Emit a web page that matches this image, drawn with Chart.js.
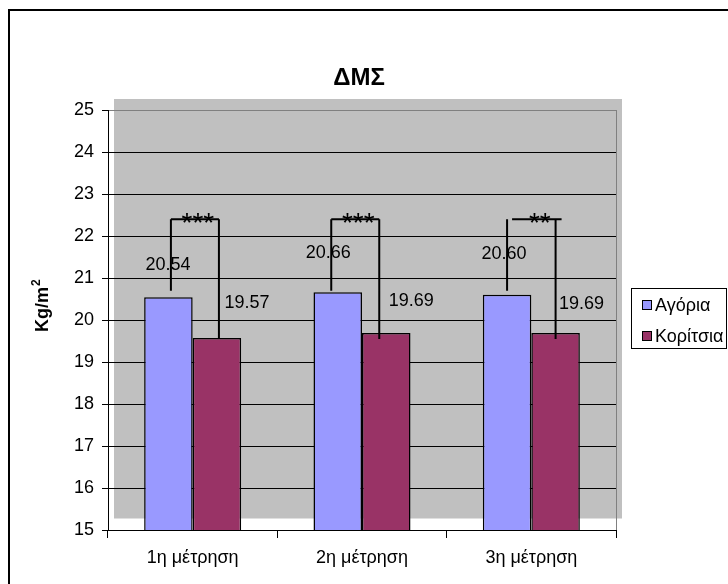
<!DOCTYPE html>
<html>
<head>
<meta charset="utf-8">
<script src="https://cdn.jsdelivr.net/npm/chart.js@4"></script>
<style>
html,body{margin:0;padding:0;background:#fff;}
#wrap{width:728px;height:584px;position:relative;}
</style>
</head>
<body>
<div id="wrap"><canvas id="c" width="728" height="584"></canvas></div>
<script>
// ---- data ----
const categories = ['1η μέτρηση', '2η μέτρηση', '3η μέτρηση'];
const seriesNames = ['Αγόρια', 'Κορίτσια'];
const boys = [20.54, 20.66, 20.60];
const girls = [19.57, 19.69, 19.69];
const sigLabels = ['***', '***', '**'];
const sigLevel = 22.4;
const yMin = 15, yMax = 25, yStep = 1;
const chartTitle = 'ΔΜΣ';
const yTitle = 'Kg/m';
const yTitleSup = '2';

const FONT = '"Liberation Sans", Arial, sans-serif';

// style-only offsets (pixels) for manually placed labels / brackets
const labelStyle = {
  dx: [[-0.5, -9.5, -3], [30, 25, 26]],
  dy: [[-32, -39, -41], [-35, -32, -29]]
};
const bracketStyle = {
  leftDx: [2.5, -6.5, 0],
  rightDx: [2, -7, 0],
  hStartDx: [0, 0, 5],
  hEndDx: [0, 0, 6],
  leftBottomY: 290.7,
  rightBottomY: 339
};

const deco = {
  id: 'deco',
  beforeDraw(chart) {
    const ctx = chart.ctx, a = chart.chartArea;
    ctx.save();
    ctx.fillStyle = '#fff';
    ctx.fillRect(0, 0, chart.width, chart.height);
    // outer border
    ctx.fillStyle = '#000';
    ctx.fillRect(8, 9, 2, chart.height);
    ctx.fillRect(8, 9, chart.width, 2);
    // offset gray plot background
    ctx.fillStyle = '#C0C0C0';
    ctx.fillRect(a.left + 6, a.top - 11, a.right - a.left, a.bottom - a.top - 0.5);
    ctx.restore();
  },
  beforeDatasetsDraw(chart) {
    const ctx = chart.ctx, a = chart.chartArea;
    ctx.save();
    ctx.strokeStyle = '#808080';
    ctx.lineWidth = 1;
    ctx.beginPath();
    ctx.moveTo(Math.round(a.right) + 0.5, a.top);
    ctx.lineTo(Math.round(a.right) + 0.5, a.bottom);
    ctx.stroke();
    ctx.restore();
  },
  afterDatasetsDraw(chart) {
    const ctx = chart.ctx, a = chart.chartArea;
    const ys = chart.scales.y;
    ctx.save();
    // data labels
    ctx.fillStyle = '#000';
    ctx.font = '18px ' + FONT;
    ctx.textAlign = 'center';
    ctx.textBaseline = 'middle';
    [0, 1].forEach(di => {
      const meta = chart.getDatasetMeta(di);
      meta.data.forEach((bar, i) => {
        const v = chart.data.datasets[di].data[i];
        ctx.fillText(v.toFixed(2), bar.x + labelStyle.dx[di][i], bar.y + labelStyle.dy[di][i]);
      });
    });
    // significance brackets
    const m0 = chart.getDatasetMeta(0), m1 = chart.getDatasetMeta(1);
    const topY = ys.getPixelForValue(sigLevel);
    ctx.strokeStyle = '#000';
    ctx.lineWidth = 2;
    sigLabels.forEach((s, i) => {
      const xl = m0.data[i].x + bracketStyle.leftDx[i];
      const xr = m1.data[i].x + bracketStyle.rightDx[i];
      ctx.beginPath();
      ctx.moveTo(xl, bracketStyle.leftBottomY);
      ctx.lineTo(xl, topY);
      ctx.moveTo(xl + bracketStyle.hStartDx[i], topY);
      ctx.lineTo(xr + bracketStyle.hEndDx[i], topY);
      ctx.moveTo(xr, topY);
      ctx.lineTo(xr, bracketStyle.rightBottomY);
      ctx.stroke();
      ctx.font = '28px ' + FONT;
      ctx.textAlign = 'center';
      ctx.textBaseline = 'alphabetic';
      const cx = (xl + bracketStyle.hStartDx[i] + xr + bracketStyle.hEndDx[i]) / 2 + 3;
      ctx.fillText(s, cx, topY + 13);
    });
    ctx.restore();
  },
  afterDraw(chart) {
    const ctx = chart.ctx, a = chart.chartArea;
    ctx.save();
    // title
    ctx.fillStyle = '#000';
    ctx.font = 'bold 24px ' + FONT;
    ctx.textAlign = 'center';
    ctx.textBaseline = 'alphabetic';
    ctx.fillText(chartTitle, 359, 85);
    // y axis title
    ctx.translate(47.5, 332);
    ctx.rotate(-Math.PI / 2);
    ctx.font = 'bold 18px ' + FONT;
    ctx.textAlign = 'left';
    ctx.fillText(yTitle, 0, 0);
    const w = ctx.measureText(yTitle).width;
    ctx.font = 'bold 12px ' + FONT;
    ctx.fillText(yTitleSup, w + 1, -8);
    ctx.restore();
    // legend
    ctx.save();
    ctx.strokeStyle = '#000';
    ctx.lineWidth = 1;
    ctx.strokeRect(631.5, 288.5, 95, 60);
    ctx.font = '18px ' + FONT;
    ctx.textAlign = 'left';
    ctx.textBaseline = 'middle';
    const ys2 = [305, 336];
    chart.data.datasets.forEach((ds, i) => {
      ctx.fillStyle = ds.backgroundColor;
      ctx.fillRect(642, ys2[i] - 5, 10, 10);
      ctx.strokeRect(642.5, ys2[i] - 4.5, 9, 9);
      ctx.fillStyle = '#000';
      ctx.fillText(ds.label, 655, ys2[i] + 1);
    });
    ctx.restore();
  }
};

new Chart(document.getElementById('c'), {
  type: 'bar',
  data: {
    labels: categories,
    datasets: [
      { label: seriesNames[0], data: boys, backgroundColor: '#9999FF', borderColor: '#000', borderWidth: 1.5 },
      { label: seriesNames[1], data: girls, backgroundColor: '#993366', borderColor: '#000', borderWidth: 1.5 }
    ]
  },
  plugins: [deco],
  options: {
    responsive: false,
    animation: false,
    events: [],
    layout: { padding: { left: 0, top: 110, right: 112, bottom: 0 } },
    categoryPercentage: 0.573,
    barPercentage: 1,
    plugins: { legend: { display: false }, title: { display: false }, tooltip: { enabled: false } },
    scales: {
      x: {
        offset: true,
        afterFit(s) { s.height = 54; },
        grid: { offset: true, drawOnChartArea: false, tickLength: 8, tickColor: '#000', lineWidth: 1 },
        border: { display: true, color: '#000', width: 1 },
        ticks: { color: '#000', font: { family: FONT, size: 18 }, padding: 9, maxRotation: 0 }
      },
      y: {
        min: yMin, max: yMax,
        afterFit(s) { s.width = 108; },
        grid: {
          color: (c) => (c.tick && c.tick.value === yMax) ? '#808080' : '#000',
          tickColor: '#000', tickLength: 6, lineWidth: 1
        },
        border: { display: true, color: '#000', width: 1 },
        ticks: { stepSize: yStep, color: '#000', font: { family: FONT, size: 18 }, padding: 8 }
      }
    }
  }
});
</script>
</body>
</html>
